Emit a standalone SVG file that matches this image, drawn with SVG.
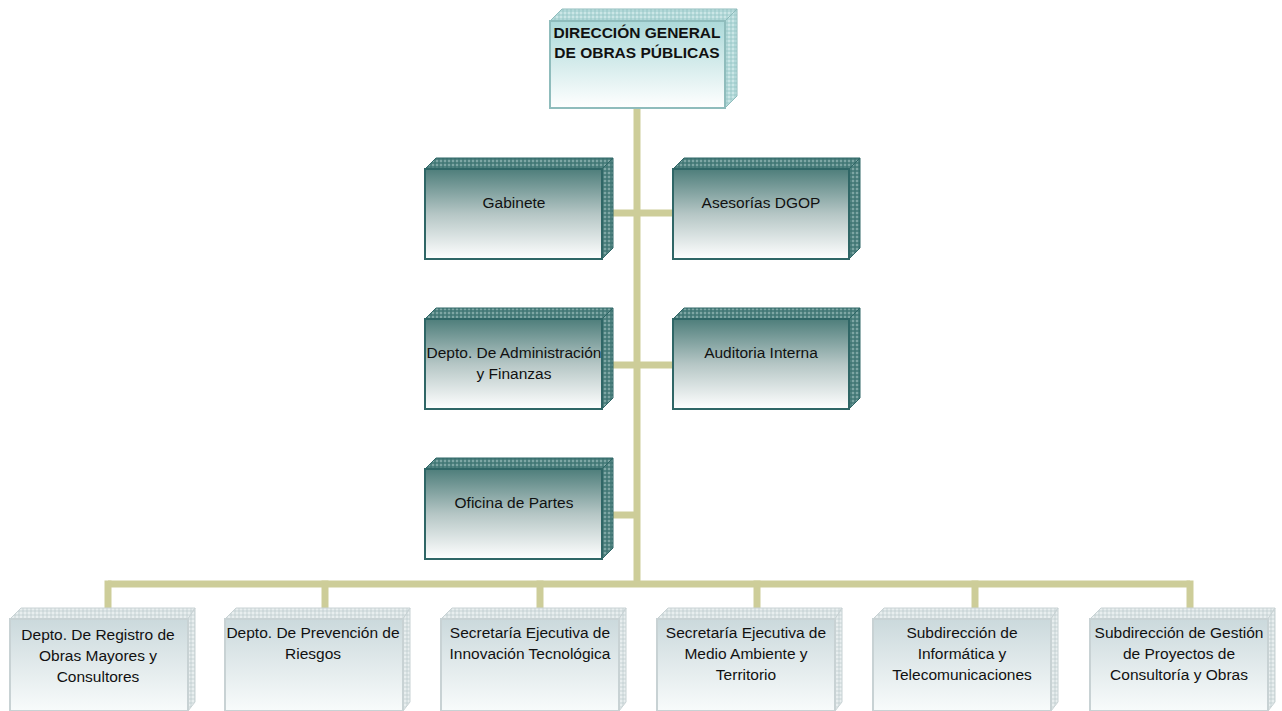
<svg xmlns="http://www.w3.org/2000/svg" width="1282" height="711" viewBox="0 0 1282 711">
<style>
.t{font-family:"Liberation Sans",Arial,sans-serif;font-size:15.5px;fill:#111;text-anchor:middle}
.tb{font-family:"Liberation Sans",Arial,sans-serif;font-size:15.5px;font-weight:bold;fill:#111;text-anchor:middle}
.dk .f{fill:url(#gDark);stroke:#2f6666;stroke-width:2}
.dk .s{fill:url(#pDark);stroke:#2f6666;stroke-width:1}
.lt .f{fill:url(#gTop);stroke:#8fbcbc;stroke-width:2}
.lt .s{fill:url(#pTop);stroke:#8fbcbc;stroke-width:1}
.lg .f{fill:url(#gLight);stroke:#c8d2d4;stroke-width:2}
.lg .s{fill:url(#pLight);stroke:#c8d2d4;stroke-width:1}
.c{stroke:#cdcd99;stroke-width:7;fill:none;stroke-linecap:butt}
</style>
<defs>
<linearGradient id="gDark" x1="0" y1="0" x2="0" y2="1">
<stop offset="0" stop-color="#4e7e7b"/><stop offset="0.5" stop-color="#b5c6c5"/><stop offset="1" stop-color="#ffffff"/>
</linearGradient>
<linearGradient id="gTop" x1="0" y1="0" x2="0" y2="1">
<stop offset="0" stop-color="#acd9d9"/><stop offset="1" stop-color="#ffffff"/>
</linearGradient>
<linearGradient id="gLight" x1="0" y1="0" x2="0" y2="1">
<stop offset="0" stop-color="#cbd9dc"/><stop offset="1" stop-color="#f8fbfb"/>
</linearGradient>
<pattern id="pDark" width="4" height="4" patternUnits="userSpaceOnUse">
<rect width="4" height="4" fill="#4f8280"/><rect width="2" height="2" fill="#7ea6a4"/><rect x="2" y="2" width="2" height="2" fill="#437876"/>
</pattern>
<pattern id="pTop" width="4" height="4" patternUnits="userSpaceOnUse">
<rect width="4" height="4" fill="#b2d8d8"/><rect width="2" height="2" fill="#cbe6e6"/><rect x="2" y="2" width="2" height="2" fill="#a5cfcf"/>
</pattern>
<pattern id="pLight" width="4" height="4" patternUnits="userSpaceOnUse">
<rect width="4" height="4" fill="#d8e1e2"/><rect width="2" height="2" fill="#e8eeef"/><rect x="2" y="2" width="2" height="2" fill="#cdd8da"/>
</pattern>
</defs>

<g id="connectors">
<path class="c" d="M637 108 V584"/>
<path class="c" d="M602 213 H673"/>
<path class="c" d="M602 365 H673"/>
<path class="c" d="M602 515 H637"/>
<path class="c" d="M108 584 H1190"/>
<path class="c" d="M108 580.5 V608 M325 580.5 V608 M540 580.5 V608 M757 580.5 V608 M975 580.5 V608 M1190 580.5 V608"/>
</g>

<g id="n-direccion" class="lt">
<polygon class="s" points="550,21 562,9 737,9 725,21"/>
<polygon class="s" points="725,21 737,9 737,96 725,108"/>
<rect class="f" x="550" y="21" width="175" height="87"/>
<text class="tb" x="637" y="38">DIRECCIÓN GENERAL</text>
<text class="tb" x="637" y="58">DE OBRAS PÚBLICAS</text>
</g>

<g id="n-gabinete" class="dk">
<polygon class="s" points="425,169 436,158 613,158 602,169"/>
<polygon class="s" points="602,169 613,158 613,248 602,259"/>
<rect class="f" x="425" y="169" width="177" height="90"/>
<text class="t" x="514" y="208">Gabinete</text>
</g>

<g id="n-asesorias" class="dk">
<polygon class="s" points="673,169 684,158 860,158 849,169"/>
<polygon class="s" points="849,169 860,158 860,248 849,259"/>
<rect class="f" x="673" y="169" width="176" height="90"/>
<text class="t" x="761" y="208">Asesorías DGOP</text>
</g>

<g id="n-admin" class="dk">
<polygon class="s" points="425,319 436,308 613,308 602,319"/>
<polygon class="s" points="602,319 613,308 613,398 602,409"/>
<rect class="f" x="425" y="319" width="177" height="90"/>
<text class="t" x="514" y="358">Depto. De Administración</text>
<text class="t" x="514" y="379">y Finanzas</text>
</g>

<g id="n-auditoria" class="dk">
<polygon class="s" points="673,319 684,308 860,308 849,319"/>
<polygon class="s" points="849,319 860,308 860,398 849,409"/>
<rect class="f" x="673" y="319" width="176" height="90"/>
<text class="t" x="761" y="358">Auditoria Interna</text>
</g>

<g id="n-oficina" class="dk">
<polygon class="s" points="425,469 436,458 613,458 602,469"/>
<polygon class="s" points="602,469 613,458 613,548 602,559"/>
<rect class="f" x="425" y="469" width="177" height="90"/>
<text class="t" x="514" y="508">Oficina de Partes</text>
</g>

<g id="n-registro" class="lg">
<polygon class="s" points="10,619 21,608 195,608 188,619"/>
<polygon class="s" points="188,619 195,608 195,702 188,711"/>
<rect class="f" x="10" y="619" width="178" height="92"/>
<text class="t" x="98" y="640">Depto. De Registro de</text>
<text class="t" x="98" y="661">Obras Mayores y</text>
<text class="t" x="98" y="682">Consultores</text>
</g>

<g id="n-prevencion" class="lg">
<polygon class="s" points="225,619 236,608 410,608 403,619"/>
<polygon class="s" points="403,619 410,608 410,702 403,711"/>
<rect class="f" x="225" y="619" width="178" height="92"/>
<text class="t" x="313" y="638">Depto. De Prevención de</text>
<text class="t" x="313" y="659">Riesgos</text>
</g>

<g id="n-innovacion" class="lg">
<polygon class="s" points="441,619 452,608 626,608 619,619"/>
<polygon class="s" points="619,619 626,608 626,702 619,711"/>
<rect class="f" x="441" y="619" width="178" height="92"/>
<text class="t" x="530" y="638">Secretaría Ejecutiva de</text>
<text class="t" x="530" y="659">Innovación Tecnológica</text>
</g>

<g id="n-medio" class="lg">
<polygon class="s" points="657,619 668,608 842,608 835,619"/>
<polygon class="s" points="835,619 842,608 842,702 835,711"/>
<rect class="f" x="657" y="619" width="178" height="92"/>
<text class="t" x="746" y="638">Secretaría Ejecutiva de</text>
<text class="t" x="746" y="659">Medio Ambiente y</text>
<text class="t" x="746" y="680">Territorio</text>
</g>

<g id="n-informatica" class="lg">
<polygon class="s" points="873,619 884,608 1058,608 1051,619"/>
<polygon class="s" points="1051,619 1058,608 1058,702 1051,711"/>
<rect class="f" x="873" y="619" width="178" height="92"/>
<text class="t" x="962" y="638">Subdirección de</text>
<text class="t" x="962" y="659">Informática y</text>
<text class="t" x="962" y="680">Telecomunicaciones</text>
</g>

<g id="n-gestion" class="lg">
<polygon class="s" points="1090,619 1101,608 1275,608 1268,619"/>
<polygon class="s" points="1268,619 1275,608 1275,702 1268,711"/>
<rect class="f" x="1090" y="619" width="178" height="92"/>
<text class="t" x="1179" y="638">Subdirección de Gestión</text>
<text class="t" x="1179" y="659">de Proyectos de</text>
<text class="t" x="1179" y="680">Consultoría y Obras</text>
</g>
</svg>
